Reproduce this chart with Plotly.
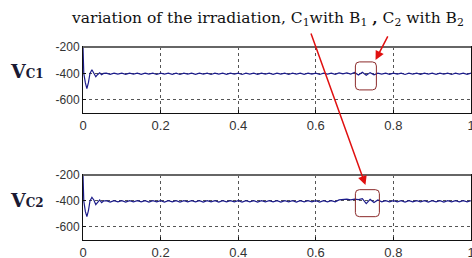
import plotly.graph_objects as go
from plotly.subplots import make_subplots

# ---- data ----
t_start = [0.0, 0.002, 0.006, 0.010, 0.014, 0.018, 0.023, 0.028, 0.033, 0.038, 0.043, 0.048, 0.053]
vc1_start = [-200, -400, -470, -515, -470, -400, -372, -395, -425, -408, -395, -410, -400]
vc2_start = [-200, -400, -480, -520, -475, -400, -372, -392, -428, -405, -392, -412, -400]

t_ss = [0.06, 0.07, 0.08, 0.09, 0.10, 0.11, 0.12, 0.13, 0.14, 0.15, 0.16, 0.17, 0.18, 0.19,
        0.20, 0.21, 0.22, 0.23, 0.24, 0.25, 0.26, 0.27, 0.28, 0.29, 0.30, 0.31, 0.32, 0.33,
        0.34, 0.35, 0.36, 0.37, 0.38, 0.39, 0.40, 0.41, 0.42, 0.43, 0.44, 0.45, 0.46, 0.47,
        0.48, 0.49, 0.50, 0.51, 0.52, 0.53, 0.54, 0.55, 0.56, 0.57, 0.58, 0.59, 0.60, 0.61,
        0.62, 0.63, 0.64, 0.65, 0.66, 0.67, 0.68, 0.69, 0.70, 0.71, 0.72, 0.73, 0.74, 0.75,
        0.76, 0.77, 0.78, 0.79, 0.80, 0.81, 0.82, 0.83, 0.84, 0.85, 0.86, 0.87, 0.88, 0.89,
        0.90, 0.91, 0.92, 0.93, 0.94, 0.95, 0.96, 0.97, 0.98, 0.99, 1.00]
vc1_ss = [-398, -407, -398, -406, -398, -407, -398, -406, -398, -407, -398, -406, -398, -408,
          -398, -406, -398, -407, -398, -408, -398, -406, -398, -407, -398, -406, -398, -408,
          -398, -406, -398, -407, -398, -406, -398, -408, -398, -406, -398, -407, -398, -406,
          -398, -407, -398, -406, -398, -408, -398, -406, -398, -407, -398, -406, -398, -408,
          -398, -406, -398, -407, -396, -404, -396, -405, -393, -412, -392, -414, -394, -410,
          -398, -406, -398, -407, -398, -406, -398, -408, -398, -406, -398, -407, -398, -406,
          -398, -407, -398, -406, -398, -408, -398, -406, -398, -407, -398]
vc2_ss = [-398, -408, -398, -406, -398, -408, -398, -406, -398, -407, -398, -408, -398, -406,
          -398, -408, -398, -406, -398, -408, -398, -406, -398, -407, -398, -408, -398, -406,
          -398, -408, -398, -406, -398, -407, -398, -408, -398, -406, -398, -408, -398, -406,
          -398, -407, -398, -408, -398, -406, -398, -408, -398, -406, -398, -407, -398, -408,
          -398, -406, -398, -407, -392, -388, -386, -392, -386, -390, -382, -420, -388, -412,
          -392, -406, -398, -407, -398, -406, -398, -408, -398, -406, -398, -407, -398, -408,
          -398, -406, -398, -408, -398, -406, -398, -407, -398, -406, -398]

x_ticks = [0, 0.2, 0.4, 0.6, 0.8, 1]
x_tick_text = ["0", "0.2", "0.4", "0.6", "0.8", "1"]
y_ticks = [-200, -400, -600]
y_tick_text = ["-200", "-400", "-600"]

title_text = "variation of the irradiation, C<sub>1</sub>with B<sub>1</sub> <b>,</b> C<sub>2</sub> with B<sub>2</sub>"
labels = ["<b>V</b><span style='font-size:12px'><b>C1</b></span>",
          "<b>V</b><span style='font-size:12px'><b>C2</b></span>"]

# ---- figure ----
fig = make_subplots(rows=2, cols=1)
line_col = "#1c1c8a"
fig.add_trace(go.Scatter(x=t_start + t_ss, y=vc1_start + vc1_ss, mode="lines",
                         line=dict(color=line_col, width=1.2), showlegend=False), row=1, col=1)
fig.add_trace(go.Scatter(x=t_start + t_ss, y=vc2_start + vc2_ss, mode="lines",
                         line=dict(color=line_col, width=1.2), showlegend=False), row=2, col=1)

axis_common = dict(showline=True, linecolor="#111", linewidth=1, mirror=True,
                   ticks="inside", ticklen=3, tickcolor="#111",
                   showgrid=True, gridcolor="#555", griddash="dot", gridwidth=1,
                   zeroline=False)
for r, dom in [(1, [0.658, 1.0]), (2, [0.0, 0.337])]:
    fig.update_xaxes(range=[0, 1], tickvals=x_ticks, ticktext=x_tick_text, domain=[0, 1],
                     tickfont=dict(family="Liberation Sans", size=13, color="#333"),
                     ticklabeloverflow="allow",
                     **axis_common, row=r, col=1)
    fig.update_yaxes(range=[-700, -200], tickvals=y_ticks, ticktext=y_tick_text, domain=dom,
                     tickfont=dict(family="Liberation Sans", size=12, color="#333"),
                     **axis_common, row=r, col=1)

# gray top frame lines
for xr, yr in [("x domain", "y domain"), ("x2 domain", "y2 domain")]:
    fig.add_shape(type="line", xref=xr, yref=yr, x0=0, x1=1, y0=1, y1=1,
                  line=dict(color="#666666", width=2))

# rounded highlight boxes (anchored at data point, sized in pixels)
def rounded(w, h, r=4):
    return (f"M {r},0 L {w - r},0 Q {w},0 {w},{-r} L {w},{-h + r} Q {w},{-h} {w - r},{-h} "
            f"L {r},{-h} Q 0,{-h} 0,{-h + r} L 0,{-r} Q 0,0 {r},0 Z")

fig.add_shape(type="path", xref="x", yref="y", xsizemode="pixel", ysizemode="pixel",
              xanchor=0.702, yanchor=-313, path=rounded(21, 28),
              line=dict(color="#8b2a2a", width=1))
fig.add_shape(type="path", xref="x2", yref="y2", xsizemode="pixel", ysizemode="pixel",
              xanchor=0.702, yanchor=-313, path=rounded(24, 27),
              line=dict(color="#8b2a2a", width=1))

# arrows
fig.add_annotation(x=0.728, y=-277, xref="x2", yref="y2", ax=-55, ay=-153,
                   axref="pixel", ayref="pixel", text="", showarrow=True,
                   arrowhead=2, arrowsize=1.2, arrowwidth=1.5, arrowcolor="#e01010")
fig.add_annotation(x=0.754, y=-298, xref="x", yref="y", ax=13, ay=-25,
                   text="", showarrow=True,
                   arrowhead=2, arrowsize=1.2, arrowwidth=1.5, arrowcolor="#e01010")

# title
fig.add_annotation(x=(267 - 83) / 388, y=(240 - 19) / 193, xref="paper", yref="paper",
                   text=title_text, showarrow=False, xanchor="center", yanchor="middle",
                   font=dict(family="DejaVu Serif", size=15.5, color="#111"))

# side labels
for lab, yp in zip(labels, [(240 - 71) / 193, (240 - 200) / 193]):
    fig.add_annotation(x=(46 - 83) / 388, y=yp, xref="paper", yref="paper", text=lab,
                       showarrow=False, xanchor="right", yanchor="middle",
                       font=dict(family="DejaVu Serif", size=19, color="#1a1a33"))

fig.update_layout(width=472, height=258,
                  margin=dict(l=83, r=1, t=47, b=18, pad=0, autoexpand=False),
                  paper_bgcolor="white", plot_bgcolor="white")
fig.write_html("out.html", config={"displayModeBar": False},
               post_script="document.body.style.margin='0px';")
